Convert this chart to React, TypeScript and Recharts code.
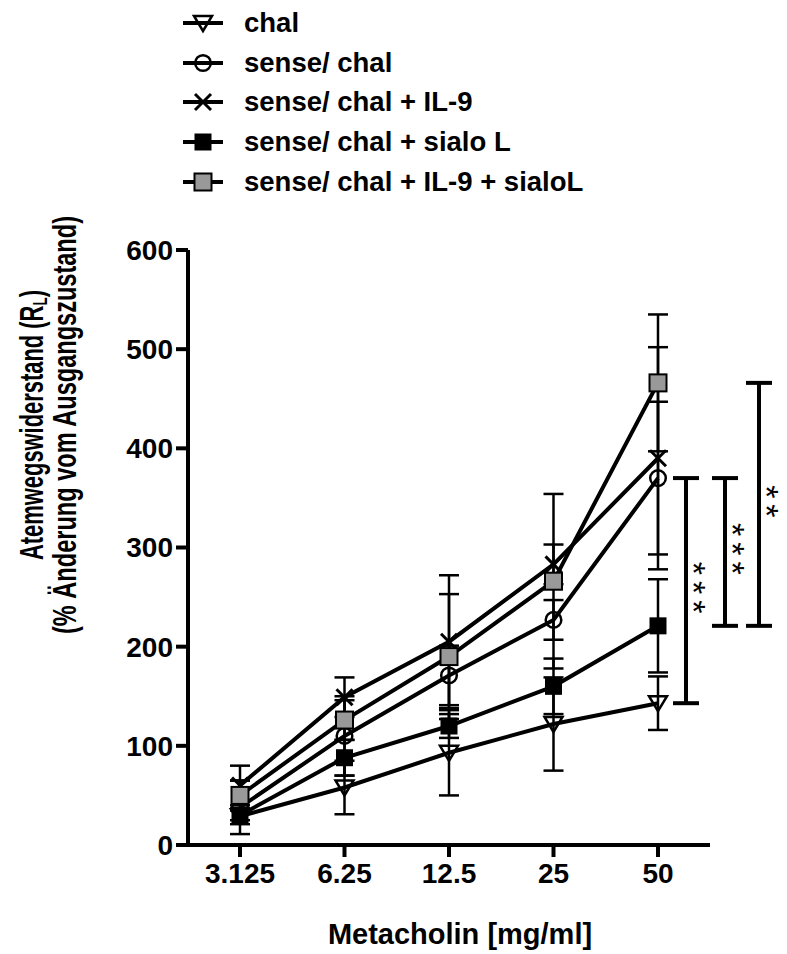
import React from "react";
import { LineChart, Line, XAxis, YAxis, ErrorBar, Legend, ReferenceLine } from "recharts";

const FONT = "'Liberation Sans', Arial, sans-serif";

// Metacholin doses (x categories)
const doses = ["3.125", "6.25", "12.5", "25", "50"];
const yTicks = [0, 100, 200, 300, 400, 500, 600];

// mean change of airway resistance (%) and SEM per group
const chal = [29, 58, 93, 122, 143];
const chalSem = [8, 27, 43, 47, 27];
const senseChal = [38, 110, 171, 227, 370];
const senseChalSem = [27, 40, 30, 20, 77];
const senseIl9 = [60, 149, 205, 283, 390];
const senseIl9Sem = [20, 20, 67, 20, 112];
const senseSialo = [30, 88, 120, 160, 221];
const senseSialoSem = [5, 18, 12, 28, 47];
const senseIl9Sialo = [50, 126, 190, 266, 466];
const senseIl9SialoSem = [15, 20, 63, 88, 69];

type MarkerKind = "triangle" | "circle" | "cross" | "square" | "greySquare";

const series: { key: string; name: string; marker: MarkerKind; values: number[]; sem: number[] }[] = [
  { key: "chal", name: "chal", marker: "triangle", values: chal, sem: chalSem },
  { key: "senseChal", name: "sense/ chal", marker: "circle", values: senseChal, sem: senseChalSem },
  { key: "senseIl9", name: "sense/ chal + IL-9", marker: "cross", values: senseIl9, sem: senseIl9Sem },
  { key: "senseSialo", name: "sense/ chal + sialo L", marker: "square", values: senseSialo, sem: senseSialoSem },
  { key: "senseIl9Sialo", name: "sense/ chal + IL-9 + sialoL", marker: "greySquare", values: senseIl9Sialo, sem: senseIl9SialoSem },
];

// significance brackets at the highest dose
const last = doses.length - 1;
const brackets = [
  { top: senseChal[last], bottom: chal[last], dx: 28, stars: "***" },
  { top: senseChal[last], bottom: senseSialo[last], dx: 67, stars: "***" },
  { top: senseIl9Sialo[last], bottom: senseSialo[last], dx: 101, stars: "**" },
];

const data = doses.map((dose, i) => {
  const row: Record<string, string | number> = { dose };
  series.forEach((s) => {
    row[s.key] = s.values[i];
    row[s.key + "Sem"] = s.sem[i];
  });
  return row;
});

function Marker({ kind, cx, cy }: { kind: MarkerKind; cx: number; cy: number }) {
  const h = 8;
  switch (kind) {
    case "triangle":
      return (
        <polygon
          points={`${cx - 9},${cy - 7} ${cx + 9},${cy - 7} ${cx},${cy + 8}`}
          fill="none"
          stroke="#000"
          strokeWidth={2.5}
          strokeLinejoin="miter"
        />
      );
    case "circle":
      return <circle cx={cx} cy={cy} r={7.8} fill="none" stroke="#000" strokeWidth={2.5} />;
    case "cross":
      return (
        <g stroke="#000" strokeWidth={3}>
          <line x1={cx - h} y1={cy - h} x2={cx + h} y2={cy + h} />
          <line x1={cx - h} y1={cy + h} x2={cx + h} y2={cy - h} />
        </g>
      );
    case "square":
      return <rect x={cx - 8.5} y={cy - 8.5} width={17} height={17} fill="#000" />;
    case "greySquare":
      return (
        <rect x={cx - 8.5} y={cy - 8.5} width={17} height={17} fill="#999999" stroke="#000" strokeWidth={2} />
      );
  }
}

function Bracket(props: any) {
  const { x1, y1, y2, dx, stars } = props;
  const x = x1 + dx;
  const top = Math.min(y1, y2);
  const bottom = Math.max(y1, y2);
  const mid = (top + bottom) / 2;
  const tx = x + 8;
  return (
    <g>
      <line x1={x} x2={x} y1={top} y2={bottom} stroke="#000" strokeWidth={4} />
      <line x1={x - 13} x2={x + 13} y1={top} y2={top} stroke="#000" strokeWidth={4} />
      <line x1={x - 13} x2={x + 13} y1={bottom} y2={bottom} stroke="#000" strokeWidth={4} />
      <text
        x={tx}
        y={mid}
        transform={`rotate(90 ${tx} ${mid})`}
        textAnchor="middle"
        dominantBaseline="central"
        fontFamily={FONT}
        fontSize={34}
        letterSpacing={6}
        fill="#000"
      >
        {stars}
      </text>
    </g>
  );
}

// legend rows follow the series order (not the library's alphabetical sort)
function LegendBlock() {
  return (
    <div style={{ fontFamily: FONT }}>
      {series.map((s) => (
        <div key={s.key} style={{ display: "flex", alignItems: "center", height: 39.75 }}>
          <svg width={40} height={22} style={{ overflow: "visible" }}>
            <line x1={0} x2={40} y1={11} y2={11} stroke="#000" strokeWidth={4} />
            <Marker kind={s.marker} cx={20} cy={11} />
          </svg>
          <span style={{ marginLeft: 21, fontSize: 27.5, fontWeight: "bold", color: "#000", whiteSpace: "nowrap" }}>
            {s.name}
          </span>
        </div>
      ))}
    </div>
  );
}

function YTitle() {
  return (
    <g fontFamily={FONT} fontWeight="bold" fill="#000">
      <text
        transform="translate(31,425) rotate(-90)"
        textAnchor="middle"
        dominantBaseline="central"
        fontSize={34}
        textLength={270}
        lengthAdjust="spacingAndGlyphs"
      >
        Atemwegswiderstand (R
        <tspan fontSize={21} dy={8}>L</tspan>
        <tspan dy={-8}>)</tspan>
      </text>
      <text
        transform="translate(64,425) rotate(-90)"
        textAnchor="middle"
        dominantBaseline="central"
        fontSize={34}
        textLength={418}
        lengthAdjust="spacingAndGlyphs"
      >
        (% Änderung vom Ausgangszustand)
      </text>
    </g>
  );
}

const tickStyle = { fill: "#000", fontSize: 28, fontWeight: "bold", fontFamily: FONT };

export default function App() {
  return (
    <div style={{ position: "absolute", left: 0, top: 0, background: "#fff" }}>
      <LineChart
        width={787}
        height={954}
        data={data}
        margin={{ top: 250, right: 77, bottom: 69, left: 128 }}
      >
        <XAxis
          dataKey="dose"
          height={40}
          padding={{ left: 52, right: 52 }}
          axisLine={{ stroke: "#000", strokeWidth: 4 }}
          tickLine={{ stroke: "#000", strokeWidth: 4 }}
          tickSize={12}
          tickMargin={6}
          tick={tickStyle}
          label={{
            value: "Metacholin [mg/ml]",
            position: "bottom",
            offset: 38,
            dx: 11,
            fill: "#000",
            fontSize: 29,
            fontWeight: "bold",
            fontFamily: FONT,
          }}
        />
        <YAxis
          width={60}
          domain={[0, 600]}
          ticks={yTicks}
          interval={0}
          axisLine={{ stroke: "#000", strokeWidth: 4 }}
          tickLine={{ stroke: "#000", strokeWidth: 4 }}
          tickSize={12}
          tickMargin={3}
          tick={tickStyle}
          label={{ content: () => <YTitle /> }}
        />
        <Legend
          layout="vertical"
          align="center"
          verticalAlign="middle"
          wrapperStyle={{ top: 3, left: 183, width: 450, height: 200 }}
          content={() => <LegendBlock />}
        />
        {series.map((s) => (
          <Line
            key={s.key}
            dataKey={s.key}
            name={s.name}
            type="linear"
            stroke="#000"
            strokeWidth={4}
            isAnimationActive={false}
            activeDot={false}
            dot={(p: any) => <Marker key={`${s.key}-${p.index}`} kind={s.marker} cx={p.cx} cy={p.cy} />}
          >
            <ErrorBar
              dataKey={s.key + "Sem"}
              direction="y"
              width={10}
              stroke="#000"
              strokeWidth={2.5}
              isAnimationActive={false}
            />
          </Line>
        ))}
        {brackets.map((b, i) => (
          <ReferenceLine
            key={i}
            segment={[
              { x: doses[last], y: b.top },
              { x: doses[last], y: b.bottom },
            ]}
            ifOverflow="visible"
            shape={(p: any) => <Bracket {...p} dx={b.dx} stars={b.stars} />}
          />
        ))}
      </LineChart>
    </div>
  );
}
